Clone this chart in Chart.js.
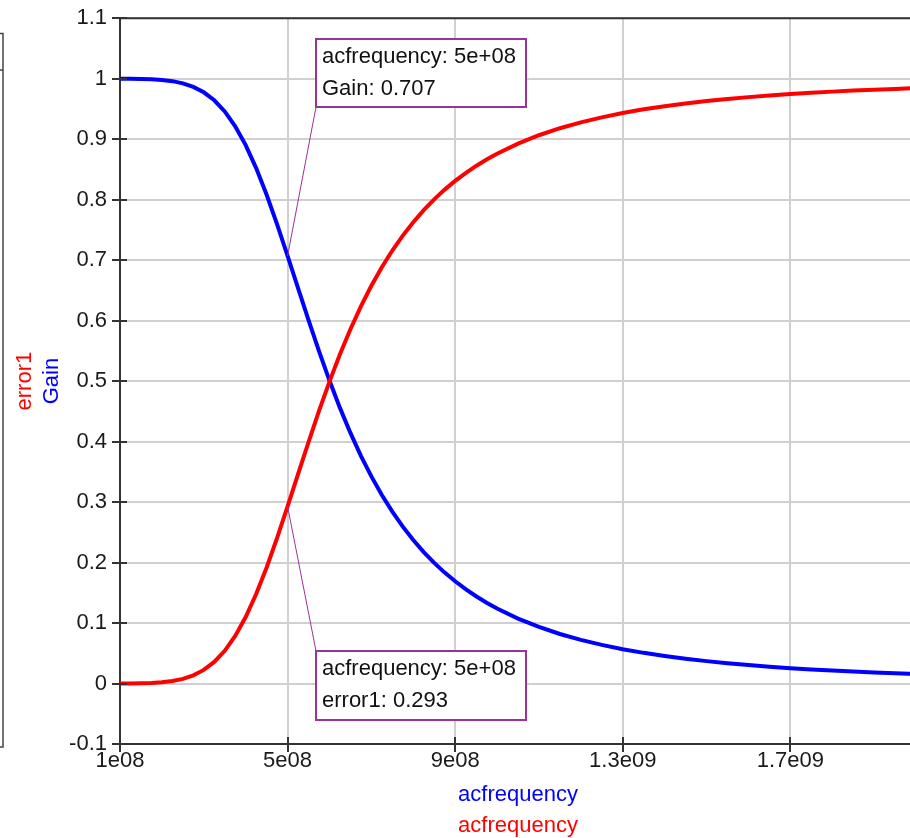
<!DOCTYPE html>
<html><head><meta charset="utf-8">
<script src="https://cdn.jsdelivr.net/npm/chart.js@4.4.0/dist/chart.umd.min.js"></script>
<style>
html,body{margin:0;padding:0;background:#fff;overflow:hidden;width:910px;height:838px;}
#c{position:absolute;left:0;top:0;}
</style></head>
<body><canvas id="c" width="930" height="838"></canvas>
<script>
// acfrequency samples (Hz)
const frequency = [1.0e8,1.25e8,1.5e8,1.75e8,2.0e8,2.25e8,2.5e8,2.75e8,3.0e8,3.25e8,3.5e8,3.75e8,4.0e8,4.25e8,4.5e8,4.75e8,
  5.0e8,5.25e8,5.5e8,5.75e8,6.0e8,6.25e8,6.5e8,6.75e8,7.0e8,7.25e8,7.5e8,7.75e8,8.0e8,8.25e8,8.5e8,8.75e8,9.0e8,9.25e8,9.5e8,9.75e8,
  1.0e9,1.05e9,1.1e9,1.15e9,1.2e9,1.25e9,1.3e9,1.35e9,1.4e9,1.45e9,1.5e9,1.55e9,1.6e9,1.65e9,1.7e9,1.75e9,1.8e9,1.85e9,1.9e9,1.95e9,2.0e9];
const gain = [1.0000,0.9999,0.9996,0.9991,0.9980,0.9959,0.9923,0.9864,0.9775,0.9643,0.9459,0.9214,0.8901,0.8521,0.8081,0.7592,
  0.7071,0.6537,0.6007,0.5494,0.5009,0.4557,0.4143,0.3765,0.3424,0.3117,0.2841,0.2594,0.2372,0.2173,0.1995,0.1834,0.1690,0.1560,0.1443,0.1337,
  0.1240,0.1074,0.0935,0.0819,0.0722,0.0639,0.0568,0.0507,0.0455,0.0410,0.0370,0.0336,0.0305,0.0278,0.0254,0.0233,0.0214,0.0197,0.0182,0.0169,0.0156];
const error1 = [0.0000,0.0001,0.0004,0.0009,0.0020,0.0041,0.0077,0.0136,0.0225,0.0357,0.0541,0.0786,0.1099,0.1479,0.1919,0.2408,
  0.2929,0.3463,0.3993,0.4506,0.4991,0.5443,0.5857,0.6235,0.6576,0.6883,0.7159,0.7406,0.7628,0.7827,0.8005,0.8166,0.8310,0.8440,0.8557,0.8663,
  0.8760,0.8926,0.9065,0.9181,0.9278,0.9361,0.9432,0.9493,0.9545,0.9590,0.9630,0.9664,0.9695,0.9722,0.9746,0.9767,0.9786,0.9803,0.9818,0.9831,0.9844];

const xTickValues = [1e8,5e8,9e8,1.3e9,1.7e9];
const xTickLabels = ['1e08','5e08','9e08','1.3e09','1.7e09'];
const yTickValues = [-0.1,0,0.1,0.2,0.3,0.4,0.5,0.6,0.7,0.8,0.9,1.0,1.1];
const yTickLabels = ['-0.1','0','0.1','0.2','0.3','0.4','0.5','0.6','0.7','0.8','0.9','1','1.1'];

const yTitles = [{text:'error1', color:'#ff0000'},{text:'Gain', color:'#0000ff'}];
const xTitles = [{text:'acfrequency', color:'#0000ff'},{text:'acfrequency', color:'#ff0000'}];

const markerX = 5e8;
const markerGain = 0.707;
const markerError = 0.293;
const markerLabels = [['acfrequency: 5e+08','Gain: 0.707'],['acfrequency: 5e+08','error1: 0.293']];

const FONT = '22px "Liberation Sans", Arial, sans-serif';
Chart.defaults.font.family = '"Liberation Sans", Arial, sans-serif';
Chart.defaults.font.size = 22;

const deco = {
  id:'deco',
  afterDraw(chart){
    const c = chart.ctx, a = chart.chartArea;
    const xs = chart.scales.x, ys = chart.scales.y;
    c.save();
    // top frame
    c.strokeStyle = '#333'; c.lineWidth = 2;
    c.beginPath(); c.moveTo(a.left-1, a.top); c.lineTo(a.right+1, a.top); c.stroke();
    // inner tick marks
    c.lineWidth = 2;
    ys.ticks.forEach(t=>{ const p = Math.round(ys.getPixelForValue(t.value));
      c.beginPath(); c.moveTo(a.left, p); c.lineTo(a.left+7, p); c.stroke(); });
    xs.ticks.forEach(t=>{ const p = Math.round(xs.getPixelForValue(t.value));
      c.beginPath(); c.moveTo(p, a.bottom); c.lineTo(p, a.bottom-7); c.stroke(); });
    // left panel (clipped)
    c.strokeStyle = '#444'; c.lineWidth = 1.5;
    c.beginPath(); c.moveTo(-5, 33.5); c.lineTo(3, 33.5); c.lineTo(3, 747); c.lineTo(-5, 747); c.stroke();
    c.beginPath(); c.moveTo(-5, 70); c.lineTo(3, 70); c.stroke();
    // y titles
    c.font = FONT; c.textAlign = 'center'; c.textBaseline = 'alphabetic';
    const midY = (a.top + a.bottom)/2;
    const yBase = [31, 58];
    yTitles.forEach((t,i)=>{
      c.save(); c.translate(yBase[i], midY); c.rotate(-Math.PI/2);
      c.fillStyle = t.color; c.fillText(t.text, 0, 0); c.restore();
    });
    // x titles
    const midX = (a.left + a.right)/2;
    const xBase = [801, 832];
    xTitles.forEach((t,i)=>{ c.fillStyle = t.color; c.fillText(t.text, midX, xBase[i]); });
    // annotations
    const px = xs.getPixelForValue(markerX);
    const boxes = [
      {py: ys.getPixelForValue(markerGain), left: 316, top: 39, w: 210, h: 68, corner:'bottom'},
      {py: ys.getPixelForValue(markerError), left: 316, top: 651, w: 210, h: 69, corner:'top'}
    ];
    boxes.forEach((b,i)=>{
      const cy = b.corner==='bottom' ? b.top + b.h : b.top;
      c.strokeStyle = '#993399'; c.lineWidth = 1;
      c.beginPath(); c.moveTo(px, b.py); c.lineTo(b.left, cy); c.stroke();
      c.fillStyle = '#fff'; c.fillRect(b.left, b.top, b.w, b.h);
      c.lineWidth = 2; c.strokeRect(b.left, b.top, b.w, b.h);
      c.fillStyle = '#111'; c.textAlign = 'left';
      c.fillText(markerLabels[i][0], b.left+6, b.top+24);
      c.fillText(markerLabels[i][1], b.left+6, b.top+56);
    });
    c.restore();
  }
};

new Chart(document.getElementById('c').getContext('2d'), {
  type:'line',
  data:{datasets:[
    {label:'error1', data: frequency.map((f,i)=>({x:f, y:error1[i]})), borderColor:'#ff0000', borderWidth:4, pointRadius:0, tension:0, fill:false, order:0},
    {label:'Gain', data: frequency.map((f,i)=>({x:f, y:gain[i]})), borderColor:'#0000ff', borderWidth:4, pointRadius:0, tension:0, fill:false, order:1}
  ]},
  options:{
    responsive:false, animation:false, devicePixelRatio:1,
    layout:{padding:{left:0, top:18, right:14, bottom:0}},
    plugins:{legend:{display:false}, tooltip:{enabled:false}},
    scales:{
      x:{type:'linear', min:1e8, max:2e9,
        afterBuildTicks: s=>{ s.ticks = xTickValues.map(v=>({value:v})); },
        afterFit: s=>{ s.height = 94; },
        ticks:{callback:(v,i)=>xTickLabels[i], color:'#1a1a1a', padding:-4, maxRotation:0, autoSkip:false},
        grid:{color:'#d0d0d0', lineWidth:2, tickLength:8, tickColor:'#333', tickWidth:2},
        border:{color:'#333', width:2}},
      y:{type:'linear', min:-0.1, max:1.1,
        afterBuildTicks: s=>{ s.ticks = yTickValues.map(v=>({value:v})); },
        afterFit: s=>{ s.width = 120; },
        ticks:{callback:(v,i)=>yTickLabels[i], color:'#1a1a1a', padding:5, autoSkip:false},
        grid:{color:'#d0d0d0', lineWidth:2, tickLength:8, tickColor:'#333', tickWidth:2},
        border:{color:'#333', width:2}}
    }
  },
  plugins:[deco]
});
</script>
</body></html>
